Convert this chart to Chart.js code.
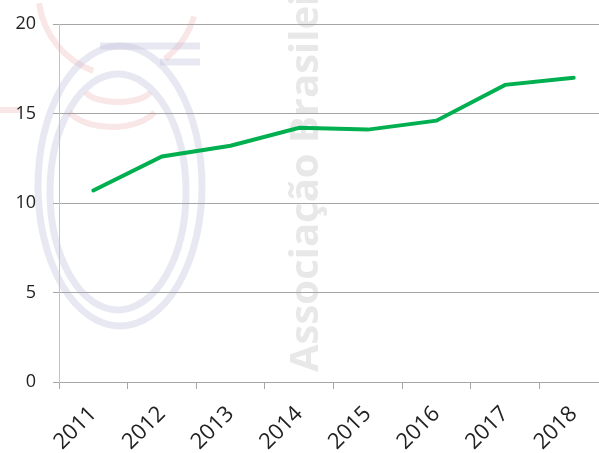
<!DOCTYPE html>
<html>
<head>
<meta charset="utf-8">
<script src="https://cdn.jsdelivr.net/npm/chart.js@4/dist/chart.umd.min.js"></script>
<style>
  html, body { margin: 0; padding: 0; background: #fff; overflow: hidden; }
  #wrap { width: 620px; height: 453px; }
</style>
</head>
<body>
<div id="wrap"><canvas id="chart"></canvas></div>
<script>
// Data
const years = ["2011", "2012", "2013", "2014", "2015", "2016", "2017", "2018"];
const values = [10.7, 12.6, 13.2, 14.2, 14.1, 14.6, 16.6, 17.0];
const yMin = 0, yMax = 20, yStep = 5;

// faint background logo + text, like the watermark in the picture
const watermark = {
    id: "watermark",
    beforeDraw(chart) {
        const c = chart.ctx;
        c.save();
        // red arcs
        c.strokeStyle = "rgba(225,130,130,0.2)";
        c.lineWidth = 6;
        c.beginPath(); c.ellipse(118, -10, 80, 85, 0, 0.6 * Math.PI, 0.95 * Math.PI); c.stroke();
        c.beginPath(); c.ellipse(118, -10, 80, 85, 0, 0.1 * Math.PI, 0.3 * Math.PI); c.stroke();
        c.beginPath(); c.ellipse(118, 88, 34, 14, 0, 0.1 * Math.PI, 0.9 * Math.PI); c.stroke();
        c.beginPath(); c.ellipse(112, 100, 48, 27, 0, 0.15 * Math.PI, 0.85 * Math.PI); c.stroke();
        c.beginPath(); c.moveTo(0, 110); c.lineTo(22, 110); c.stroke();
        // grey-blue double ellipse
        c.strokeStyle = "rgba(185,185,215,0.32)";
        c.lineWidth = 7;
        c.beginPath(); c.ellipse(120, 186, 82, 140, 0, 0, 2 * Math.PI); c.stroke();
        c.beginPath(); c.ellipse(118, 192, 68, 118, 0, 0, 2 * Math.PI); c.stroke();
        c.beginPath(); c.moveTo(100, 46); c.lineTo(200, 46); c.stroke();
        c.beginPath(); c.moveTo(160, 62); c.lineTo(200, 62); c.stroke();
        // rotated text
        c.translate(318, 372);
        c.rotate(-Math.PI / 2);
        c.fillStyle = "rgba(205,205,205,0.45)";
        c.font = "bold 40px 'Open Sans', 'DejaVu Sans', sans-serif";
        c.textAlign = "left";
        c.textBaseline = "alphabetic";
        c.fillText("Associação Brasileira", 0, 0);
        c.restore();
    }
};

const ctx = document.querySelector("#chart").getContext("2d");

new Chart(ctx, {
    type: "line",
    data: {
        labels: years,
        datasets: [
            {
                data: values,
                borderColor: "#00b050",
                borderWidth: 4,
                borderCapStyle: "round",
                pointRadius: 0,
                tension: 0,
                fill: false,
            },
        ]
    },
    options: {
        responsive: true,
        maintainAspectRatio: false,
        animation: false,
        layout: { padding: { top: 24, right: 12, left: 0, bottom: 0 } },
        plugins: {
            legend: { display: false },
            tooltip: { enabled: false },
        },
        scales: {
            x: {
                offset: true,
                grid: {
                    offset: true,
                    drawOnChartArea: false,
                    tickLength: 7,
                    color: "#a6a6a6",
                },
                border: { color: "#a6a6a6" },
                ticks: {
                    autoSkip: false,
                    minRotation: 45,
                    maxRotation: 45,
                    padding: 12,
                    color: "#222",
                    font: { size: 22, family: "'Open Sans', sans-serif" },
                },
                afterFit(scale) { scale.height = 71; },
            },
            y: {
                min: yMin,
                max: yMax,
                grid: {
                    color: "#a6a6a6",
                    tickLength: 6,
                },
                border: { color: "#c4c4c4" },
                ticks: {
                    stepSize: yStep,
                    padding: 17,
                    color: "#222",
                    font: { size: 18, family: "'Open Sans', sans-serif" },
                },
                afterFit(scale) {
                    scale.width = 59;
                    scale.paddingTop = 10;
                    scale.paddingBottom = 10;
                },
            },
        },
    },
    plugins: [watermark],
});
</script>
</body>
</html>
